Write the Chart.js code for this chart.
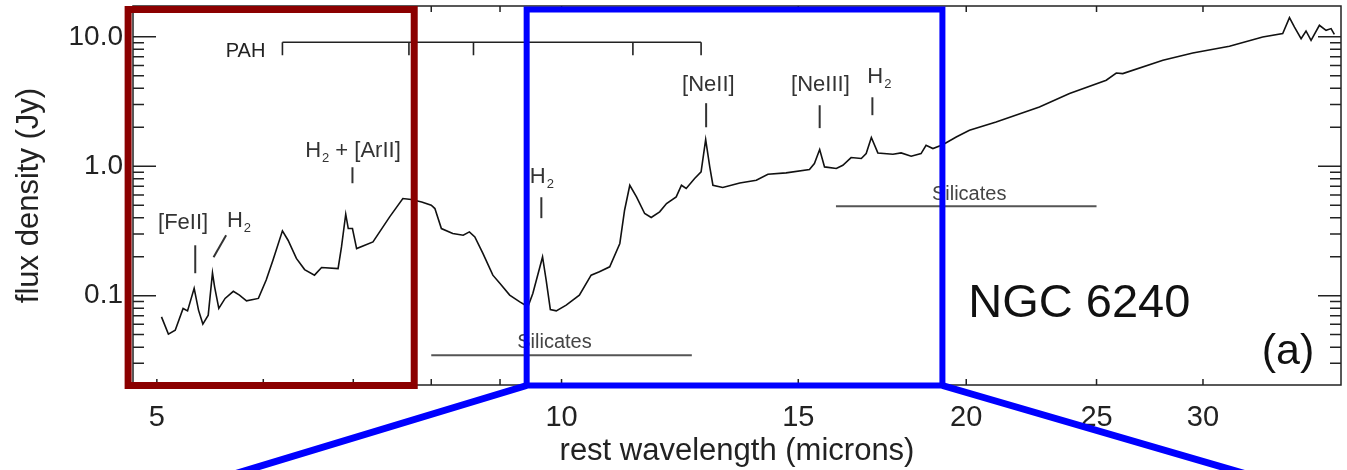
<!DOCTYPE html>
<html lang="en">
<head>
<meta charset="UTF-8">
<title>NGC 6240 mid-infrared spectrum</title>
<script src="https://cdn.jsdelivr.net/npm/chart.js"></script>
<style>
  html, body { margin: 0; padding: 0; background: #fff; }
  #wrap { width: 1347px; height: 470px; }
</style>
</head>
<body>
<div id="wrap"><canvas id="spectrum" width="1347" height="470"></canvas></div>
<script>
// rest wavelength (microns) and flux density (Jy) of the spectrum
const wavelength = [
  5.04, 5.10, 5.16, 5.23, 5.27, 5.33, 5.37, 5.41, 5.46, 5.50,
  5.52, 5.56, 5.62, 5.70, 5.76, 5.83, 5.95, 6.03, 6.10, 6.20,
  6.26, 6.35, 6.44, 6.55, 6.63, 6.82, 6.86, 6.91, 6.94, 6.99,
  7.04, 7.24, 7.45, 7.62, 7.73, 7.87, 8.00, 8.05, 8.14, 8.30,
  8.45, 8.54, 8.62, 8.74, 8.89, 9.00, 9.15, 9.31, 9.44, 9.52,
  9.68, 9.74, 9.81, 9.91, 10.08, 10.31, 10.52, 10.67, 10.86, 11.05,
  11.14, 11.24, 11.37, 11.53, 11.66, 11.83, 11.97, 12.17, 12.28, 12.38,
  12.56, 12.70, 12.80, 12.89, 12.96, 13.18, 13.57, 13.96, 14.24, 14.69,
  15.29, 15.42, 15.56, 15.69, 16.01, 16.19, 16.42, 16.71, 16.85, 17.00,
  17.19, 17.64, 17.89, 18.20, 18.51, 18.67, 18.89, 19.21, 19.66, 20.11,
  21.05, 22.67, 23.87, 25.42, 25.86, 26.15, 28.01, 29.48, 31.39, 33.23,
  34.39, 34.79, 35.09, 35.49, 35.79, 36.10, 36.62, 37.04, 37.36, 37.57
];
const flux = [
  0.0686, 0.0504, 0.0541, 0.0796, 0.0763, 0.114, 0.0773, 0.0603, 0.0707, 0.150,
  0.117, 0.0796, 0.0952, 0.108, 0.101, 0.0912, 0.0952, 0.132, 0.188, 0.317,
  0.268, 0.194, 0.159, 0.144, 0.165, 0.162, 0.238, 0.426, 0.330, 0.330,
  0.231, 0.260, 0.406, 0.563, 0.553, 0.530, 0.500, 0.471, 0.330, 0.302,
  0.293, 0.311, 0.284, 0.212, 0.144, 0.124, 0.101, 0.0896, 0.0820, 0.104,
  0.199, 0.132, 0.0782, 0.0763, 0.0845, 0.101, 0.144, 0.153, 0.167, 0.253,
  0.457, 0.713, 0.579, 0.431, 0.402, 0.444, 0.515, 0.579, 0.713, 0.673,
  0.804, 0.904, 1.608, 0.988, 0.713, 0.685, 0.743, 0.780, 0.868, 0.888,
  0.943, 1.049, 1.346, 0.988, 0.960, 1.018, 1.167, 1.147, 1.253, 1.666,
  1.267, 1.238, 1.267, 1.195, 1.253, 1.453, 1.370, 1.466, 1.684, 1.897,
  2.198, 2.870, 3.642, 4.615, 5.254, 5.197, 6.584, 7.497, 8.446, 9.965,
  10.59, 14.07, 11.90, 9.685, 11.09, 9.397, 12.27, 11.22, 11.57, 10.45
];

const xTickValues = [5, 10, 15, 20, 25, 30];
const xTickLabels = ['5', '10', '15', '20', '25', '30'];
const xMinorValues = [6, 7, 8, 9];
const yTickValues = [0.1, 1, 10];
const yTickLabels = ['0.1', '1.0', '10.0'];

// PAH emission bands (microns)
const pahBands = [6.2, 7.7, 8.6, 11.3, 12.7];

// emission lines: label, where the label sits, and the marker below it
const lineLabels = [
  { text: '[FeII]', at: [5.23, 0.326], mark: [5.34, 0.245, 5.34, 0.149] },
  { text: 'H_2', at: [5.75, 0.338], mark: [5.51, 0.198, 5.63, 0.293] },
  { text: 'H_2 + [ArII]', at: [6.99, 1.17], mark: [6.99, 0.982, 6.99, 0.739] },
  { text: 'H_2', at: [9.66, 0.739], mark: [9.66, 0.576, 9.66, 0.397] },
  { text: '[NeII]', at: [12.86, 3.80], mark: [12.81, 3.07, 12.81, 2.0] },
  { text: '[NeIII]', at: [15.58, 3.80], mark: [15.56, 2.96, 15.56, 1.97] },
  { text: 'H_2', at: [17.22, 4.37], mark: [17.03, 3.41, 17.03, 2.48] }
];

// silicate absorption ranges
const silicates = [
  { from: 8.0, to: 12.5, level: 0.0347, textAt: [9.88, 0.0393] },
  { from: 16.0, to: 25.0, level: 0.491, textAt: [20.1, 0.546] }
];

// highlighted wavelength windows
const windows = [
  { from: 4.76, to: 7.77, color: '#8b0000', width: 7, fan: null },
  { from: 9.42, to: 19.2, color: '#0000ff', width: 6, fan: [5.84, 31.55] }
];

const FONT = '"Liberation Sans", Arial, Helvetica, sans-serif';

function richText(ctx, text, cx, baseline, size, color) {
  const parts = text.split('_2');
  const main = size + 'px ' + FONT;
  const sub = Math.round(size * 0.6) + 'px ' + FONT;
  let w = 0;
  parts.forEach((p, i) => {
    ctx.font = main; w += ctx.measureText(p).width;
    if (i < parts.length - 1) { ctx.font = sub; w += ctx.measureText('2').width; }
  });
  let xx = cx - w / 2;
  ctx.fillStyle = color;
  ctx.textAlign = 'left';
  ctx.textBaseline = 'alphabetic';
  parts.forEach((p, i) => {
    ctx.font = main; ctx.fillText(p, xx, baseline); xx += ctx.measureText(p).width;
    if (i < parts.length - 1) {
      ctx.font = sub; ctx.fillText('2', xx + 1, baseline + size * 0.2); xx += ctx.measureText('2').width + 1;
    }
  });
}

const overlay = {
  id: 'overlay',
  afterDraw(chart) {
    const { ctx, chartArea: a, scales: { x, y } } = chart;
    const px = v => x.getPixelForValue(v);
    const py = v => y.getPixelForValue(v);
    ctx.save();

    // frame
    ctx.strokeStyle = '#222';
    ctx.lineWidth = 1.5;
    ctx.strokeRect(a.left, a.top, a.right - a.left, a.bottom - a.top);

    // inward tick marks
    ctx.beginPath();
    xTickValues.concat(xMinorValues).forEach(v => {
      const p = px(v);
      ctx.moveTo(p, a.bottom); ctx.lineTo(p, a.bottom - 6);
      ctx.moveTo(p, a.top); ctx.lineTo(p, a.top + 6);
    });
    [0.01, 0.1, 1].forEach(d => {
      for (let k = 1; k <= 9; k++) {
        const v = k * d;
        if (v < y.min || v > y.max) continue;
        const len = k === 1 ? 23 : 11;
        const p = py(v);
        ctx.moveTo(a.left, p); ctx.lineTo(a.left + len, p);
        ctx.moveTo(a.right, p); ctx.lineTo(a.right - len, p);
      }
    });
    if (10 <= y.max) {
      const p = py(10);
      ctx.moveTo(a.left, p); ctx.lineTo(a.left + 23, p);
      ctx.moveTo(a.right, p); ctx.lineTo(a.right - 23, p);
    }
    ctx.stroke();

    // PAH bracket
    ctx.strokeStyle = '#222';
    ctx.lineWidth = 1.6;
    ctx.beginPath();
    ctx.moveTo(px(pahBands[0]), py(9.07));
    ctx.lineTo(px(pahBands[pahBands.length - 1]), py(9.07));
    pahBands.forEach(b => { ctx.moveTo(px(b), py(9.07)); ctx.lineTo(px(b), py(7.2)); });
    ctx.stroke();
    ctx.fillStyle = '#222';
    ctx.font = '20px ' + FONT;
    ctx.textAlign = 'center';
    ctx.textBaseline = 'alphabetic';
    ctx.fillText('PAH', px(5.82), py(6.95));

    // emission line labels
    ctx.strokeStyle = '#333';
    ctx.lineWidth = 2;
    lineLabels.forEach(l => {
      richText(ctx, l.text, px(l.at[0]), py(l.at[1]), 22, '#333');
      ctx.beginPath();
      ctx.moveTo(px(l.mark[0]), py(l.mark[1]));
      ctx.lineTo(px(l.mark[2]), py(l.mark[3]));
      ctx.stroke();
    });

    // silicate ranges
    silicates.forEach(s => {
      ctx.strokeStyle = '#555';
      ctx.lineWidth = 2;
      ctx.beginPath();
      ctx.moveTo(px(s.from), py(s.level));
      ctx.lineTo(px(s.to), py(s.level));
      ctx.stroke();
      ctx.fillStyle = '#444';
      ctx.font = '20px ' + FONT;
      ctx.textAlign = 'center';
      ctx.fillText('Silicates', px(s.textAt[0]), py(s.textAt[1]));
    });

    // source name and panel letter
    ctx.fillStyle = '#111';
    ctx.font = '47px ' + FONT;
    ctx.textAlign = 'left';
    ctx.fillText('NGC 6240', px(20.07), py(0.0682));
    ctx.font = '43px ' + FONT;
    ctx.textAlign = 'right';
    ctx.fillText('(a)', px(36.3), py(0.0296));

    // highlighted windows
    windows.forEach(w => {
      const l = px(w.from), r = px(w.to);
      const t = a.top + 3.5, b = a.bottom + 0.5;
      ctx.strokeStyle = w.color;
      ctx.lineWidth = w.width;
      ctx.lineJoin = 'miter';
      ctx.strokeRect(l, t, r - l, b - t);
      if (w.fan) {
        ctx.lineWidth = 7;
        const ends = [[l, px(w.fan[0])], [r, px(w.fan[1])]];
        ctx.beginPath();
        ends.forEach(([x0, x1]) => {
          const y1 = chart.height;
          const k = (y1 + 12 - b) / (y1 - b);
          ctx.moveTo(x0, b);
          ctx.lineTo(x0 + (x1 - x0) * k, y1 + 12);
        });
        ctx.stroke();
      }
    });
    ctx.restore();
  }
};

new Chart(document.getElementById('spectrum'), {
  type: 'line',
  data: {
    datasets: [{
      data: wavelength.map((w, i) => ({ x: w, y: flux[i] })),
      borderColor: '#111',
      borderWidth: 1.6,
      pointRadius: 0,
      tension: 0,
      fill: false
    }]
  },
  options: {
    responsive: false,
    animation: false,
    devicePixelRatio: 1,
    layout: { padding: { top: 6, right: 6, left: 0, bottom: 0 } },
    plugins: { legend: { display: false }, tooltip: { enabled: false } },
    scales: {
      x: {
        type: 'logarithmic',
        min: 4.8,
        max: 38,
        grid: { display: false, drawTicks: false },
        border: { display: false },
        afterBuildTicks: s => { s.ticks = xTickValues.map(v => ({ value: v })); },
        afterFit: s => { s.height = 85; s.paddingLeft = 0; s.paddingRight = 0; },
        ticks: {
          autoSkip: false,
          maxRotation: 0,
          padding: 16,
          color: '#222',
          font: { family: FONT, size: 29 },
          callback: (v, i) => xTickLabels[i]
        },
        title: {
          display: true,
          text: 'rest wavelength (microns)',
          color: '#222',
          font: { family: FONT, size: 31 },
          padding: { top: 0, bottom: 0 }
        }
      },
      y: {
        type: 'logarithmic',
        min: 0.0204,
        max: 17.3,
        grid: { display: false, drawTicks: false },
        border: { display: false },
        afterBuildTicks: s => { s.ticks = yTickValues.map(v => ({ value: v })); },
        afterFit: s => { s.width = 133; s.paddingTop = 0; s.paddingBottom = 0; },
        ticks: {
          padding: 10,
          color: '#222',
          font: { family: FONT, size: 28 },
          callback: (v, i) => yTickLabels[i]
        },
        title: {
          display: true,
          text: 'flux density (Jy)',
          color: '#222',
          font: { family: FONT, size: 31 },
          padding: { top: 11, bottom: 0 }
        }
      }
    }
  },
  plugins: [overlay]
});
</script>
</body>
</html>
